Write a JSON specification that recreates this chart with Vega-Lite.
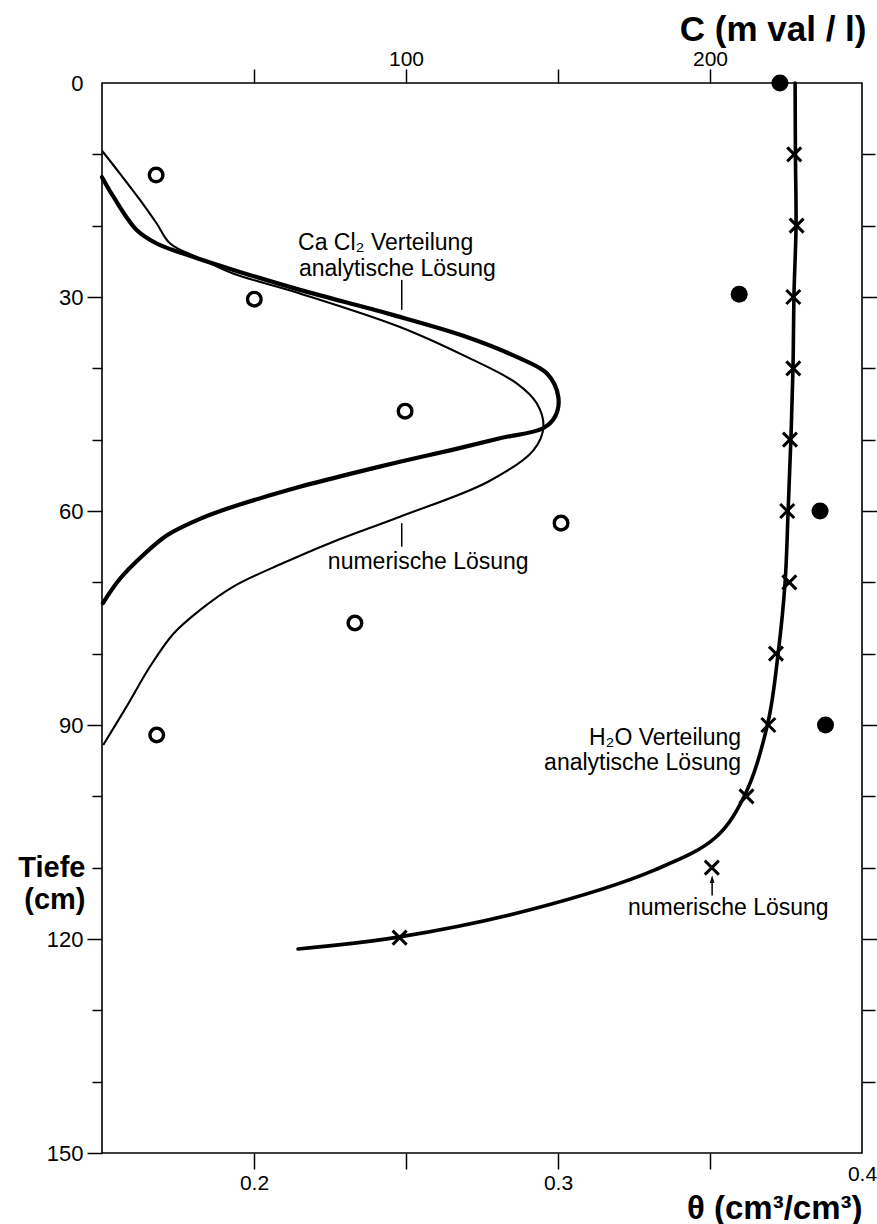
{
  "$schema": "https://vega.github.io/schema/vega-lite/v6.json",
  "width": 760,
  "height": 1070,
  "autosize": {"type": "none"},
  "padding": {"left": 102, "top": 83, "right": 15, "bottom": 71},
  "background": "white",
  "config": {
    "font": "Liberation Sans",
    "view": {"stroke": "black", "strokeWidth": 1.6},
    "axis": {
      "grid": false,
      "domain": false,
      "tickColor": "black",
      "tickWidth": 1.5,
      "labelColor": "black",
      "titleColor": "black",
      "labelFont": "Liberation Sans",
      "titleFont": "Liberation Sans",
      "labelFlush": false
    }
  },
  "datasets": {
    "cacl2_analytisch": [
      {"C": 0, "depth": 13.2}, {"C": 3.7, "depth": 15.9}, {"C": 11.4, "depth": 20.6},
      {"C": 18.0, "depth": 22.5}, {"C": 26.7, "depth": 23.9}, {"C": 43.2, "depth": 26.2},
      {"C": 65.1, "depth": 29.0}, {"C": 94.7, "depth": 32.4}, {"C": 120.0, "depth": 35.6},
      {"C": 136.4, "depth": 38.4}, {"C": 146.3, "depth": 40.7}, {"C": 150.1, "depth": 44.0},
      {"C": 149.0, "depth": 46.8}, {"C": 145.1, "depth": 48.4}, {"C": 130.9, "depth": 49.8},
      {"C": 114.5, "depth": 51.5}, {"C": 98.0, "depth": 53.1}, {"C": 81.6, "depth": 54.8},
      {"C": 65.1, "depth": 56.6}, {"C": 55.3, "depth": 57.8}, {"C": 43.1, "depth": 59.4},
      {"C": 32.2, "depth": 61.1}, {"C": 21.4, "depth": 63.4}, {"C": 13.5, "depth": 66.2},
      {"C": 5.9, "depth": 69.5}, {"C": 0.3, "depth": 72.9}
    ],
    "cacl2_numerisch": [
      {"C": 0, "depth": 9.5}, {"C": 5.9, "depth": 12.7}, {"C": 12.5, "depth": 16.4},
      {"C": 18.0, "depth": 19.7}, {"C": 22.4, "depth": 22.5}, {"C": 32.2, "depth": 24.6},
      {"C": 43.1, "depth": 26.7}, {"C": 65.1, "depth": 29.5}, {"C": 98.0, "depth": 34.2},
      {"C": 120.0, "depth": 38.4}, {"C": 136.4, "depth": 42.1}, {"C": 143.0, "depth": 44.9},
      {"C": 145.2, "depth": 48.2}, {"C": 141.9, "depth": 51.5}, {"C": 127.0, "depth": 55.9},
      {"C": 98.0, "depth": 60.8}, {"C": 76.1, "depth": 64.3}, {"C": 59.6, "depth": 67.3},
      {"C": 43.2, "depth": 70.6}, {"C": 32.2, "depth": 73.9}, {"C": 23.5, "depth": 77.2},
      {"C": 15.8, "depth": 81.8}, {"C": 8.1, "depth": 87.4}, {"C": 0.4, "depth": 92.8}
    ],
    "c_gemessen": [
      {"C": 17.8, "depth": 12.9}, {"C": 50.1, "depth": 30.3}, {"C": 99.7, "depth": 46.0},
      {"C": 151.0, "depth": 61.7}, {"C": 83.2, "depth": 75.7}, {"C": 18.0, "depth": 91.4}
    ],
    "leitlinien_c": [
      {"C": 98.6, "depth": 27.6, "depth2": 31.8},
      {"C": 98.6, "depth": 61.7, "depth2": 65.0}
    ],
    "text_c": [
      {"C": 64.5, "depth": 22.4, "label": "Ca Cl₂ Verteilung"},
      {"C": 64.8, "depth": 26.1, "label": "analytische Lösung"},
      {"C": 74.3, "depth": 67.1, "label": "numerische Lösung"}
    ],
    "h2o_analytisch": [
      {"theta": 0.3780, "depth": 0}, {"theta": 0.3781, "depth": 10}, {"theta": 0.3783, "depth": 20},
      {"theta": 0.3776, "depth": 30}, {"theta": 0.3773, "depth": 40}, {"theta": 0.3766, "depth": 50},
      {"theta": 0.3757, "depth": 60}, {"theta": 0.3747, "depth": 70}, {"theta": 0.3724, "depth": 80},
      {"theta": 0.3691, "depth": 89.6}, {"theta": 0.3618, "depth": 99.5}, {"theta": 0.3520, "depth": 105.7},
      {"theta": 0.3319, "depth": 110.3}, {"theta": 0.2908, "depth": 115.9}, {"theta": 0.2479, "depth": 119.7},
      {"theta": 0.2145, "depth": 121.4}
    ],
    "h2o_numerisch": [
      {"theta": 0.3777, "depth": 10}, {"theta": 0.3785, "depth": 20}, {"theta": 0.3774, "depth": 30},
      {"theta": 0.3774, "depth": 40}, {"theta": 0.3763, "depth": 50}, {"theta": 0.3754, "depth": 60},
      {"theta": 0.3761, "depth": 70}, {"theta": 0.3717, "depth": 80}, {"theta": 0.3692, "depth": 90},
      {"theta": 0.3620, "depth": 100}, {"theta": 0.3506, "depth": 110}, {"theta": 0.2479, "depth": 119.8}
    ],
    "theta_gemessen": [
      {"theta": 0.3730, "depth": 0}, {"theta": 0.3596, "depth": 29.6},
      {"theta": 0.3862, "depth": 60}, {"theta": 0.3880, "depth": 90}
    ],
    "pfeil": [
      {"theta": 0.3507, "depth": 111.6, "depth2": 113.9}
    ],
    "text_theta_rechts": [
      {"theta": 0.3602, "depth": 91.8, "label": "H₂O Verteilung"},
      {"theta": 0.3602, "depth": 95.3, "label": "analytische Lösung"}
    ],
    "text_theta_links": [
      {"theta": 0.3230, "depth": 115.7, "label": "numerische Lösung"}
    ]
  },
  "resolve": {"scale": {"x": "independent", "y": "independent"}},
  "layer": [
    {
      "encoding": {
        "x": {
          "field": "C",
          "type": "quantitative",
          "scale": {"domain": [0, 250], "nice": false, "zero": false},
          "axis": {
            "orient": "top",
            "values": [50, 100, 150, 200],
            "labelExpr": "datum.value % 100 === 0 ? datum.label : ''",
            "tickSize": 14,
            "labelFontSize": 21,
            "labelPadding": 0,
            "title": "C (m val / l)",
            "titleFontSize": 35,
            "titleFontWeight": "bold",
            "titleAlign": "right",
            "titleBaseline": "alphabetic",
            "titleX": 764,
            "titleY": -43
          }
        },
        "y": {
          "field": "depth",
          "type": "quantitative",
          "scale": {"domain": [0, 150], "nice": false, "zero": false, "reverse": true},
          "axis": {
            "orient": "left",
            "values": [0, 10, 20, 30, 40, 50, 60, 70, 80, 90, 100, 110, 120, 130, 140, 150],
            "labelExpr": "datum.value % 30 === 0 ? datum.label : ''",
            "tickSize": {"condition": {"test": "datum.value % 30 === 0", "value": 15}, "value": 10},
            "tickOpacity": {"condition": {"test": "datum.value === 0", "value": 0}, "value": 1},
            "labelFontSize": 22,
            "labelPadding": 4,
            "title": ["Tiefe", "(cm)"],
            "titleAngle": 0,
            "titleFontSize": 29,
            "titleFontWeight": "bold",
            "titleAlign": "right",
            "titleBaseline": "alphabetic",
            "titleLineHeight": 32,
            "titleX": -17,
            "titleY": 793
          }
        }
      },
      "layer": [
        {
          "data": {"name": "cacl2_analytisch"},
          "mark": {"type": "line", "interpolate": "catmull-rom", "strokeWidth": 4.2, "color": "black", "strokeCap": "round"},
          "encoding": {"order": {"field": "depth", "type": "quantitative"}}
        },
        {
          "data": {"name": "cacl2_numerisch"},
          "mark": {"type": "line", "interpolate": "catmull-rom", "strokeWidth": 2.1, "color": "black"},
          "encoding": {"order": {"field": "depth", "type": "quantitative"}}
        },
        {
          "data": {"name": "c_gemessen"},
          "mark": {"type": "point", "shape": "circle", "size": 185, "strokeWidth": 3.4, "color": "black", "filled": false, "opacity": 1}
        },
        {
          "data": {"name": "leitlinien_c"},
          "mark": {"type": "rule", "strokeWidth": 1.5, "color": "black"},
          "encoding": {"y2": {"field": "depth2"}}
        },
        {
          "data": {"name": "text_c"},
          "mark": {"type": "text", "align": "left", "baseline": "middle", "fontSize": 23, "color": "black"},
          "encoding": {"text": {"field": "label"}}
        }
      ]
    },
    {
      "encoding": {
        "x": {
          "field": "theta",
          "type": "quantitative",
          "scale": {"domain": [0.15, 0.4], "nice": false, "zero": false},
          "axis": {
            "orient": "bottom",
            "values": [0.2, 0.25, 0.3, 0.35, 0.4],
            "labelExpr": "abs(datum.value * 10 - round(datum.value * 10)) < 1e-6 ? format(datum.value, '.1f') : ''",
            "tickSize": 16,
            "tickOpacity": {"condition": {"test": "datum.value > 0.39", "value": 0}, "value": 1},
            "labelFontSize": 21,
            "labelPadding": {"condition": {"test": "datum.value > 0.39", "value": -6}, "value": 3},
            "title": "θ (cm³/cm³)",
            "titleFontSize": 33,
            "titleFontWeight": "bold",
            "titleAlign": "right",
            "titleBaseline": "alphabetic",
            "titleX": 760,
            "titleY": 65
          }
        },
        "y": {
          "field": "depth",
          "type": "quantitative",
          "scale": {"domain": [0, 150], "nice": false, "zero": false, "reverse": true},
          "axis": {
            "orient": "right",
            "values": [10, 20, 30, 40, 50, 60, 70, 80, 90, 100, 110, 120, 130, 140],
            "labels": false,
            "tickSize": {"condition": {"test": "datum.value % 30 === 0", "value": 20}, "value": 13},
            "title": null
          }
        }
      },
      "layer": [
        {
          "data": {"name": "h2o_analytisch"},
          "mark": {"type": "line", "interpolate": "catmull-rom", "strokeWidth": 3.6, "color": "black", "strokeCap": "round"},
          "encoding": {"order": {"field": "depth", "type": "quantitative"}}
        },
        {
          "data": {"name": "h2o_numerisch"},
          "mark": {"type": "point", "shape": "M-1,-1L1,1M-1,1L1,-1", "size": 196, "strokeWidth": 3, "color": "black", "filled": false, "opacity": 1}
        },
        {
          "data": {"name": "theta_gemessen"},
          "mark": {"type": "point", "shape": "circle", "size": 290, "color": "black", "filled": true, "opacity": 1}
        },
        {
          "data": {"name": "pfeil"},
          "mark": {"type": "rule", "strokeWidth": 1.5, "color": "black"},
          "encoding": {"y2": {"field": "depth2"}}
        },
        {
          "data": {"name": "pfeil"},
          "mark": {"type": "point", "shape": "M0,-1L0.6,1L-0.6,1Z", "size": 60, "color": "black", "filled": true, "opacity": 1}
        },
        {
          "data": {"name": "text_theta_rechts"},
          "mark": {"type": "text", "align": "right", "baseline": "middle", "fontSize": 23, "color": "black"},
          "encoding": {"text": {"field": "label"}}
        },
        {
          "data": {"name": "text_theta_links"},
          "mark": {"type": "text", "align": "left", "baseline": "middle", "fontSize": 23, "color": "black"},
          "encoding": {"text": {"field": "label"}}
        }
      ]
    }
  ]
}
